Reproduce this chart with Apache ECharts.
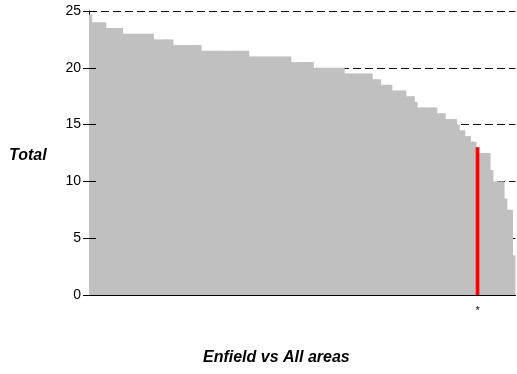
<!DOCTYPE html>
<html>
<head>
<meta charset="utf-8">
<script src="https://cdn.jsdelivr.net/npm/echarts@6/dist/echarts.min.js"></script>
<style>
  html, body { margin: 0; padding: 0; background: #fff; }
  #chart { width: 517px; height: 374px; }
</style>
</head>
<body>
<div id="chart"></div>
<script>
// ---- Data ----
const chartTitle = 'Enfield vs All areas';
const yAxisTitle = 'Total';
const highlightIndex = 138;      // Enfield
const highlightLabel = '*';
const yTicks = [0, 5, 10, 15, 20, 25];

// Values for all areas, sorted descending (Enfield at highlightIndex)
const areaValues = [
  24.7, 24, 24, 24, 24, 24,
  23.5, 23.5, 23.5, 23.5, 23.5, 23.5,
  23, 23, 23, 23, 23, 23, 23, 23, 23, 23, 23,
  22.5, 22.5, 22.5, 22.5, 22.5, 22.5, 22.5,
  22, 22, 22, 22, 22, 22, 22, 22, 22, 22,
  21.5, 21.5, 21.5, 21.5, 21.5, 21.5, 21.5, 21.5, 21.5, 21.5, 21.5, 21.5, 21.5, 21.5, 21.5, 21.5, 21.5,
  21, 21, 21, 21, 21, 21, 21, 21, 21, 21, 21, 21, 21, 21, 21,
  20.5, 20.5, 20.5, 20.5, 20.5, 20.5, 20.5, 20.5,
  20, 20, 20, 20, 20, 20, 20, 20, 20, 20, 20,
  19.5, 19.5, 19.5, 19.5, 19.5, 19.5, 19.5, 19.5, 19.5, 19.5,
  19, 19, 19,
  18.5, 18.5, 18.5, 18.5,
  18, 18, 18, 18, 18,
  17.5, 17.5, 17.5,
  17,
  16.5, 16.5, 16.5, 16.5, 16.5, 16.5, 16.5,
  16, 16, 16,
  15.5, 15.5, 15.5, 15.5,
  15,
  14.5, 14.5,
  14, 14,
  13.5, 13.5,
  13,
  12.5, 12.5, 12.5, 12.5,
  11,
  10, 10, 10, 10,
  8.5,
  7.5, 7.5,
  3.5
];
const categories = areaValues.map((_, i) => 'Area ' + (i + 1));

// ---- Chart ----
const FONT = '"Liberation Sans", Arial, sans-serif';
const chart = echarts.init(document.getElementById('chart'), null, { renderer: 'canvas' });

const highlightData = areaValues.map((v, i) => (i === highlightIndex ? v : '-'));

chart.setOption({
  animation: false,
  backgroundColor: '#ffffff',
  title: {
    text: chartTitle,
    left: 203,
    top: 350,
    padding: 0,
    textStyle: { fontFamily: FONT, fontSize: 16, fontWeight: 'bold', fontStyle: 'italic', color: '#000' }
  },
  graphic: [{
    type: 'text',
    left: 9,
    top: 148,
    style: { text: yAxisTitle, font: 'italic bold 16px ' + FONT, fill: '#000' }
  }],
  grid: { left: 89, top: 11, right: 0, bottom: 79, containLabel: false },
  xAxis: {
    type: 'category',
    data: categories,
    boundaryGap: true,
    axisLine: { show: true, lineStyle: { color: '#000', width: 1 } },
    axisTick: { show: false },
    axisLabel: {
      interval: 0,
      margin: 10,
      fontFamily: FONT, fontSize: 11, color: '#000',
      formatter: (v, i) => (i === highlightIndex ? highlightLabel : '')
    },
    splitLine: { show: false },
    z: 5
  },
  yAxis: [{
    type: 'value',
    min: yTicks[0], max: yTicks[yTicks.length - 1], interval: 5,
    axisLine: { show: true, lineStyle: { color: '#000', width: 1 } },
    axisTick: { show: true, length: 6, lineStyle: { color: '#000' } },
    axisLabel: { margin: 8, fontFamily: FONT, fontSize: 14, color: '#000' },
    splitLine: { show: true, lineStyle: { color: '#111', width: 1, type: [8, 4] } },
    z: 0
  }, {
    type: 'value',
    position: 'left',
    min: yTicks[0], max: yTicks[yTicks.length - 1], interval: 5,
    axisLine: { show: false },
    axisTick: { show: true, inside: true, length: 7, lineStyle: { color: '#000' } },
    axisLabel: { show: false },
    splitLine: { show: false },
    z: 5
  }],
  series: [{
    type: 'bar',
    name: 'All areas',
    data: areaValues,
    barWidth: 3.6,
    barGap: '-100%',
    itemStyle: { color: '#c0c0c0' },
    emphasis: { disabled: true },
    z: 2
  }, {
    type: 'bar',
    name: 'Enfield',
    data: highlightData,
    barWidth: 3.6,
    barGap: '-100%',
    itemStyle: { color: '#ff0000' },
    emphasis: { disabled: true },
    z: 3
  }]
});
</script>
</body>
</html>
